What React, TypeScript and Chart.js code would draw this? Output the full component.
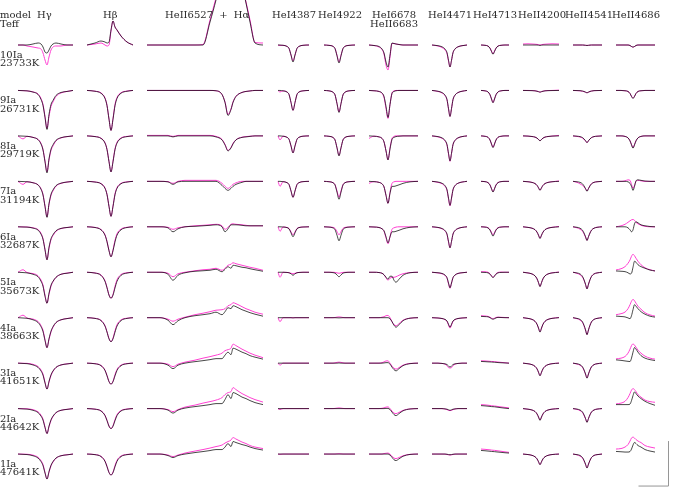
import React, { useEffect, useRef } from "react";
import { Chart, registerables } from "chart.js";

Chart.register(...registerables);

// ---------- labels ----------
const ROW_MODELS = ["10Ia", "9Ia", "8Ia", "7Ia", "6Ia", "5Ia", "4Ia", "3Ia", "2Ia", "1Ia"];
const ROW_TEFF = ["23733K", "26731K", "29719K", "31194K", "32687K", "35673K", "38663K", "41651K", "44642K", "47641K"];

// ---------- H gamma ----------
const HG_X = [-29, -24, -20, -14, -9, -6, -4, -2, 0, 2, 4, 6, 9, 14, 20, 26];
const HG_BLACK = [
  [1, 1, 1, 1.01, 1.02, 1.01, 0.98, 0.93, 0.92, 0.95, 0.99, 1.01, 1.02, 1.01, 1, 1],
  [1, 0.998, 0.996, 0.984, 0.96, 0.91, 0.85, 0.73, 0.61, 0.76, 0.86, 0.9, 0.95, 0.98, 0.99, 1],
  [1, 0.998, 0.996, 0.985, 0.963, 0.919, 0.859, 0.741, 0.63, 0.771, 0.867, 0.911, 0.956, 0.982, 0.993, 1],
  [1, 0.998, 0.996, 0.986, 0.964, 0.921, 0.863, 0.748, 0.64, 0.777, 0.87, 0.914, 0.957, 0.982, 0.993, 1],
  [1, 0.998, 0.997, 0.987, 0.967, 0.927, 0.875, 0.769, 0.67, 0.795, 0.881, 0.921, 0.96, 0.984, 0.993, 1],
  [1, 0.997, 0.994, 0.98, 0.955, 0.91, 0.86, 0.76, 0.69, 0.79, 0.87, 0.91, 0.95, 0.98, 0.99, 1],
  [1, 0.997, 0.994, 0.979, 0.952, 0.91, 0.862, 0.772, 0.7, 0.79, 0.865, 0.91, 0.952, 0.979, 0.991, 1],
  [1, 0.997, 0.995, 0.982, 0.958, 0.922, 0.88, 0.802, 0.74, 0.818, 0.883, 0.922, 0.958, 0.982, 0.992, 1],
  [1, 0.997, 0.995, 0.983, 0.96, 0.925, 0.885, 0.81, 0.75, 0.825, 0.888, 0.925, 0.96, 0.983, 0.992, 1],
  [1, 0.997, 0.995, 0.983, 0.96, 0.925, 0.885, 0.81, 0.75, 0.825, 0.888, 0.925, 0.96, 0.983, 0.992, 1],
];
const HG_MAG = [
  [1, 1, 0.99, 0.98, 0.97, 0.96, 0.92, 0.85, 0.8, 0.88, 0.95, 0.98, 0.99, 0.99, 1, 1],
  [1, 0.998, 0.996, 0.985, 0.965, 0.92, 0.86, 0.74, 0.62, 0.74, 0.84, 0.885, 0.94, 0.975, 0.99, 1],
  [1, 0.97, 0.996, 0.985, 0.965, 0.925, 0.865, 0.75, 0.64, 0.76, 0.855, 0.9, 0.95, 0.98, 0.993, 1],
  [1, 0.97, 0.996, 0.986, 0.966, 0.927, 0.87, 0.755, 0.645, 0.77, 0.86, 0.905, 0.952, 0.98, 0.993, 1],
  [1, 0.999, 0.998, 0.99, 0.972, 0.935, 0.882, 0.775, 0.67, 0.785, 0.87, 0.912, 0.955, 0.982, 0.993, 1],
  [1, 1.025, 0.997, 0.987, 0.965, 0.922, 0.872, 0.77, 0.69, 0.78, 0.86, 0.905, 0.948, 0.98, 0.992, 1],
  [1, 1.025, 0.997, 0.986, 0.962, 0.922, 0.874, 0.782, 0.7, 0.782, 0.858, 0.905, 0.95, 0.979, 0.992, 1],
  [1, 0.999, 0.998, 0.988, 0.966, 0.932, 0.89, 0.81, 0.74, 0.81, 0.877, 0.918, 0.956, 0.982, 0.993, 1],
  [1, 0.999, 0.998, 0.989, 0.968, 0.935, 0.895, 0.818, 0.75, 0.818, 0.882, 0.92, 0.958, 0.983, 0.993, 1],
  [1, 0.999, 0.998, 0.989, 0.968, 0.935, 0.895, 0.818, 0.75, 0.818, 0.882, 0.92, 0.958, 0.983, 0.993, 1],
];

// ---------- H beta ----------
const HB_X = [-24, -16, -10, -6, -4, -2, 0, 2, 4, 6, 10, 16, 22];
const HB_BLACK = [
  [1, 1.02, 1.04, 1.03, 1.02, 1.03, 1.15, 1.24, 1.18, 1.15, 1.09, 1.03, 1],
  [1, 0.992, 0.972, 0.92, 0.848, 0.712, 0.6, 0.712, 0.848, 0.92, 0.972, 0.992, 1],
  [1, 0.993, 0.975, 0.928, 0.863, 0.741, 0.64, 0.741, 0.863, 0.928, 0.975, 0.993, 1],
  [1, 0.993, 0.976, 0.93, 0.867, 0.748, 0.65, 0.748, 0.867, 0.93, 0.976, 0.993, 1],
  [1, 0.993, 0.97, 0.916, 0.85, 0.76, 0.7, 0.76, 0.85, 0.916, 0.97, 0.993, 1],
  [1, 0.992, 0.969, 0.909, 0.844, 0.771, 0.74, 0.771, 0.844, 0.909, 0.969, 0.992, 1],
  [1, 0.993, 0.971, 0.916, 0.856, 0.789, 0.76, 0.789, 0.856, 0.916, 0.971, 0.993, 1],
  [1, 0.994, 0.975, 0.927, 0.874, 0.815, 0.79, 0.815, 0.874, 0.927, 0.975, 0.994, 1],
  [1, 0.994, 0.976, 0.93, 0.88, 0.824, 0.8, 0.824, 0.88, 0.93, 0.976, 0.994, 1],
  [1, 0.994, 0.975, 0.927, 0.874, 0.815, 0.79, 0.815, 0.874, 0.927, 0.975, 0.994, 1],
];
const HB_MAG = [
  [1, 1.01, 1.02, 1.0, 0.99, 1.0, 1.14, 1.24, 1.18, 1.15, 1.09, 1.03, 1],
  [1, 0.993, 0.975, 0.925, 0.852, 0.715, 0.6, 0.72, 0.86, 0.93, 0.977, 0.994, 1],
  [1, 0.994, 0.977, 0.932, 0.867, 0.745, 0.64, 0.748, 0.872, 0.936, 0.979, 0.995, 1],
  [1, 0.994, 0.978, 0.934, 0.871, 0.752, 0.65, 0.755, 0.876, 0.938, 0.98, 0.995, 1],
  [1, 0.994, 0.973, 0.92, 0.855, 0.763, 0.7, 0.77, 0.865, 0.93, 0.977, 0.995, 1],
  [1, 0.993, 0.972, 0.914, 0.849, 0.774, 0.74, 0.78, 0.86, 0.925, 0.977, 0.995, 1],
  [1, 0.994, 0.974, 0.92, 0.86, 0.792, 0.76, 0.797, 0.87, 0.93, 0.978, 0.995, 1],
  [1, 0.995, 0.977, 0.93, 0.877, 0.817, 0.79, 0.82, 0.885, 0.938, 0.98, 0.996, 1],
  [1, 0.995, 0.978, 0.933, 0.883, 0.826, 0.8, 0.83, 0.89, 0.94, 0.98, 0.996, 1],
  [1, 0.995, 0.977, 0.93, 0.877, 0.817, 0.79, 0.82, 0.885, 0.938, 0.98, 0.996, 1],
];

// ---------- HeII6527 + H alpha ----------
const HA_X = [-81, -68, -60, -55, -50, -43, -33, -25, -18, -12, -6, -3, 0, 3, 5, 8, 14, 18, 22, 27, 35];
const HA_BLACK = [
  [1, 1, 1, 1, 1, 1, 1, 1, 1.23, 1.45, 1.7, 1.8, 1.85, 1.85, 1.85, 1.8, 1.6, 1.42, 1.23, 1.02, 1],
  [1, 1, 1, 1, 1, 1, 1, 1, 1, 0.997, 0.96, 0.88, 0.75, 0.81, 0.88, 0.94, 0.98, 0.99, 0.995, 1, 1],
  [1, 1, 1, 0.99, 1, 1, 1, 1, 1, 0.99, 0.96, 0.91, 0.85, 0.88, 0.92, 0.96, 0.985, 0.99, 0.995, 1, 1],
  [1, 1, 0.995, 0.97, 0.995, 1, 1, 1, 1, 1, 0.96, 0.93, 0.91, 0.93, 0.95, 0.97, 0.99, 1, 1, 1, 1],
  [1, 1, 0.99, 0.95, 0.98, 1, 1.005, 1.01, 1.015, 1.02, 1.0, 0.95, 0.98, 1.02, 1.02, 1.02, 1.015, 1.01, 1.01, 1.01, 1.01],
  [1, 1, 0.98, 0.92, 0.97, 0.995, 1.01, 1.015, 1.02, 1.03, 1.005, 1.03, 1.055, 1.04, 1.07, 1.065, 1.05, 1.045, 1.035, 1.025, 1.01],
  [1, 1, 0.975, 0.93, 0.97, 1, 1.02, 1.03, 1.04, 1.055, 1.03, 1.06, 1.1, 1.09, 1.12, 1.11, 1.08, 1.065, 1.05, 1.035, 1.015],
  [1, 1, 0.98, 0.945, 0.98, 1, 1.015, 1.025, 1.035, 1.045, 1.045, 1.08, 1.11, 1.085, 1.15, 1.14, 1.11, 1.095, 1.075, 1.06, 1.04],
  [1, 1, 0.985, 0.955, 0.985, 1.005, 1.02, 1.03, 1.04, 1.05, 1.05, 1.09, 1.14, 1.1, 1.16, 1.15, 1.115, 1.1, 1.08, 1.06, 1.04],
  [1, 1, 0.985, 0.965, 0.985, 1, 1.015, 1.025, 1.035, 1.045, 1.045, 1.07, 1.105, 1.075, 1.125, 1.115, 1.095, 1.085, 1.07, 1.055, 1.04],
];
const HA_MAG = [
  [1, 1, 1, 1, 1, 1, 1, 1.005, 1.25, 1.47, 1.7, 1.8, 1.85, 1.85, 1.85, 1.8, 1.6, 1.43, 1.25, 1.025, 1.02],
  [1, 1, 1, 1, 1, 1, 1, 1, 1, 0.997, 0.96, 0.885, 0.76, 0.815, 0.885, 0.942, 0.98, 0.99, 0.995, 1, 1],
  [1.005, 1.005, 1.005, 0.995, 1.005, 1.005, 1.005, 1.005, 1.005, 0.995, 0.965, 0.915, 0.855, 0.885, 0.925, 0.962, 0.987, 0.993, 0.997, 1, 1],
  [1, 1, 0.997, 0.98, 1, 1.01, 1.01, 1.01, 1.01, 1.01, 0.98, 0.95, 0.93, 0.95, 0.97, 0.985, 1, 1, 1, 1, 1],
  [1, 1, 0.995, 0.975, 0.99, 1, 1.01, 1.015, 1.02, 1.025, 1.01, 0.975, 0.995, 1.025, 1.03, 1.025, 1.02, 1.015, 1.01, 1.01, 1.01],
  [1, 1, 0.99, 0.955, 0.985, 1, 1.015, 1.025, 1.03, 1.04, 1.02, 1.04, 1.07, 1.08, 1.095, 1.085, 1.07, 1.06, 1.05, 1.04, 1.02],
  [1, 1, 0.985, 0.965, 0.985, 1.005, 1.03, 1.045, 1.06, 1.075, 1.08, 1.09, 1.12, 1.13, 1.15, 1.14, 1.11, 1.09, 1.075, 1.055, 1.035],
  [1, 1, 0.99, 0.965, 0.99, 1.01, 1.03, 1.05, 1.065, 1.08, 1.1, 1.125, 1.135, 1.15, 1.19, 1.175, 1.14, 1.12, 1.1, 1.08, 1.055],
  [1, 1, 0.99, 0.97, 0.99, 1.015, 1.035, 1.055, 1.07, 1.085, 1.11, 1.14, 1.16, 1.17, 1.21, 1.19, 1.15, 1.13, 1.11, 1.09, 1.065],
  [1, 1, 0.99, 0.975, 0.99, 1.01, 1.03, 1.045, 1.06, 1.075, 1.09, 1.11, 1.125, 1.14, 1.165, 1.15, 1.12, 1.105, 1.085, 1.07, 1.055],
];

// ---------- HeI4387 ----------
const HE4387_X = [-15, -13, -10, -6, -4, -2, 0, 2, 4, 6, 10, 16];
const HE4387_BLACK = [
  [1, 1, 0.997, 0.986, 0.966, 0.9, 0.83, 0.9, 0.966, 0.986, 0.997, 1],
  [1, 1, 0.996, 0.984, 0.96, 0.88, 0.8, 0.88, 0.96, 0.984, 0.996, 1],
  [1, 1, 0.997, 0.986, 0.966, 0.9, 0.83, 0.9, 0.966, 0.986, 0.997, 1],
  [1, 1, 0.997, 0.987, 0.968, 0.904, 0.84, 0.904, 0.968, 0.987, 0.997, 1],
  [1, 1, 0.998, 0.992, 0.98, 0.94, 0.9, 0.94, 0.98, 0.992, 0.998, 1],
  [1, 1, 1, 0.998, 0.995, 0.985, 0.97, 0.985, 0.995, 0.998, 1, 1],
  [1, 1, 1, 1, 1, 1, 0.998, 1, 1, 1, 1, 1],
  [1, 1, 1, 1, 1, 1, 1, 1, 1, 1, 1, 1],
  [1, 1, 1, 1, 1, 1, 1, 1, 1, 1, 1, 1],
  [1, 1, 1, 1, 1, 1, 1, 1, 1, 1, 1, 1],
];
const HE4387_MAG = [
  [1, 0.995, 0.997, 0.986, 0.966, 0.9, 0.84, 0.9, 0.966, 0.986, 0.997, 1],
  [1, 0.985, 0.996, 0.984, 0.96, 0.88, 0.8, 0.88, 0.96, 0.984, 0.996, 1],
  [1, 0.96, 0.997, 0.986, 0.966, 0.9, 0.83, 0.9, 0.966, 0.986, 0.997, 1],
  [1, 0.95, 0.997, 0.987, 0.968, 0.904, 0.84, 0.904, 0.968, 0.987, 0.997, 1],
  [1, 0.955, 0.998, 0.993, 0.983, 0.95, 0.92, 0.95, 0.983, 0.993, 0.998, 1],
  [1, 0.95, 1, 0.998, 0.996, 0.99, 0.985, 0.99, 0.996, 0.998, 1, 1],
  [1, 0.96, 1, 1, 1, 1, 1, 1, 1, 1, 1, 1],
  [1, 0.98, 1, 1, 1, 1, 1, 1, 1, 1, 1, 1],
  [1, 0.99, 1, 1, 1, 1, 1, 1, 1, 1, 1, 1],
  [1, 0.997, 1, 1, 1, 1, 1, 1, 1, 1, 1, 1],
];

// ---------- HeI4922 ----------
const HE4922_X = [-15, -10, -6, -4, -2, 0, 2, 4, 6, 10, 16];
const HE4922_BLACK = [
  [1, 0.996, 0.986, 0.964, 0.892, 0.82, 0.892, 0.964, 0.986, 0.996, 1],
  [1, 0.996, 0.982, 0.956, 0.868, 0.78, 0.868, 0.956, 0.982, 0.996, 1],
  [1, 0.996, 0.984, 0.96, 0.88, 0.8, 0.88, 0.96, 0.984, 0.996, 1],
  [1, 0.996, 0.986, 0.964, 0.892, 0.82, 0.892, 0.964, 0.986, 0.996, 1],
  [1, 0.997, 0.989, 0.972, 0.916, 0.86, 0.916, 0.972, 0.989, 0.997, 1],
  [1, 1, 0.996, 0.991, 0.973, 0.955, 0.973, 0.991, 0.996, 1, 1],
  [1, 1, 1, 1, 0.999, 0.998, 0.999, 1, 1, 1, 1],
  [1, 1, 1, 1, 1, 1.002, 1, 1, 1, 1, 1],
  [1, 1, 1, 1, 1, 1, 1, 1, 1, 1, 1],
  [1, 1, 1, 1, 1, 1, 1, 1, 1, 1, 1],
];
const HE4922_MAG = [
  [1, 0.997, 0.987, 0.966, 0.898, 0.83, 0.898, 0.966, 0.987, 0.997, 1],
  [1, 0.996, 0.982, 0.956, 0.87, 0.785, 0.87, 0.956, 0.982, 0.996, 1],
  [1, 0.996, 0.984, 0.96, 0.882, 0.805, 0.882, 0.96, 0.984, 0.996, 1],
  [1, 0.997, 0.987, 0.968, 0.904, 0.84, 0.904, 0.968, 0.987, 0.997, 1],
  [1, 0.998, 0.994, 0.984, 0.952, 0.92, 0.952, 0.984, 0.994, 0.998, 1],
  [1, 1, 1, 0.998, 0.994, 0.99, 0.994, 0.998, 1, 1, 1],
  [1, 1, 1, 1.002, 1.006, 1.008, 1.006, 1.002, 1, 1, 1],
  [1, 1, 1, 1.003, 1.008, 1.01, 1.008, 1.003, 1, 1, 1],
  [1, 1, 1, 1.002, 1.005, 1.007, 1.005, 1.002, 1, 1, 1],
  [1, 1, 1, 1, 1.002, 1.003, 1.002, 1, 1, 1, 1],
];

// ---------- HeI6678 / HeII6683 ----------
const HE6678_X = [-19, -14, -9, -6, -4, -2, 0, 2, 4, 6, 8, 11, 15, 22, 30];
const HE6678_BLACK = [
  [1, 0.995, 0.985, 0.96, 0.92, 0.83, 0.78, 0.9, 1.02, 1.015, 1.01, 1.005, 1, 1, 1],
  [1, 0.997, 0.99, 0.975, 0.94, 0.84, 0.73, 0.86, 0.97, 0.99, 0.997, 1, 1, 1, 1],
  [1, 0.997, 0.99, 0.975, 0.94, 0.85, 0.76, 0.87, 0.965, 0.985, 0.993, 0.997, 1, 1, 1],
  [1, 0.997, 0.99, 0.975, 0.945, 0.86, 0.78, 0.88, 0.95, 0.95, 0.955, 0.965, 0.98, 0.995, 1],
  [1, 0.998, 0.993, 0.98, 0.96, 0.9, 0.84, 0.9, 0.95, 0.95, 0.955, 0.965, 0.98, 0.995, 1],
  [1, 1, 0.997, 0.99, 0.975, 0.95, 0.93, 0.96, 0.96, 0.92, 0.9, 0.93, 0.97, 0.995, 1],
  [1, 1, 1, 1, 1, 1, 1, 0.99, 0.96, 0.925, 0.905, 0.93, 0.97, 0.995, 1],
  [1, 1, 1, 1, 1.002, 1.005, 1.005, 0.99, 0.96, 0.935, 0.923, 0.945, 0.975, 0.995, 1],
  [1, 1, 1, 1, 1, 1.002, 1.002, 0.99, 0.965, 0.94, 0.93, 0.95, 0.978, 0.996, 1],
  [1, 1, 1, 1, 1, 1, 1, 0.99, 0.967, 0.943, 0.935, 0.952, 0.978, 0.996, 1],
];
const HE6678_MAG = [
  [1, 0.995, 0.98, 0.955, 0.91, 0.8, 0.75, 0.88, 1.015, 1.015, 1.01, 1.005, 1, 1, 1],
  [1, 0.997, 0.99, 0.97, 0.93, 0.82, 0.72, 0.86, 0.975, 0.995, 1, 1, 1, 1, 1],
  [0.975, 0.997, 0.99, 0.975, 0.94, 0.85, 0.76, 0.88, 0.975, 0.995, 1, 1, 1, 1, 1],
  [0.98, 0.997, 0.99, 0.975, 0.945, 0.86, 0.78, 0.89, 0.98, 0.995, 1, 1, 1, 1, 1],
  [1, 0.998, 0.993, 0.98, 0.955, 0.89, 0.83, 0.9, 0.975, 0.99, 0.997, 1, 1, 1, 1],
  [1, 1, 0.997, 0.99, 0.975, 0.945, 0.92, 0.94, 0.95, 0.95, 0.955, 0.97, 0.985, 0.997, 1],
  [1, 1, 1, 1.005, 1.01, 1.02, 1.023, 1, 0.96, 0.93, 0.92, 0.94, 0.975, 0.995, 1],
  [1, 1, 1, 1.005, 1.012, 1.022, 1.023, 1, 0.97, 0.95, 0.94, 0.955, 0.98, 0.997, 1],
  [1, 1, 1, 1.003, 1.008, 1.015, 1.017, 1, 0.975, 0.955, 0.95, 0.962, 0.982, 0.997, 1],
  [1, 1, 1, 1, 1.005, 1.008, 1.01, 0.998, 0.978, 0.96, 0.955, 0.965, 0.983, 0.997, 1],
];

// ---------- HeI4471 ----------
const HE4471_X = [-18, -12, -8, -5, -3, -1.5, 0, 1.5, 3, 5, 8, 12, 17];
const HE4471_BLACK = [
  [1, 0.993, 0.982, 0.96, 0.923, 0.846, 0.78, 0.846, 0.923, 0.96, 0.982, 0.993, 1],
  [1, 0.992, 0.979, 0.953, 0.909, 0.818, 0.74, 0.818, 0.909, 0.953, 0.979, 0.992, 1],
  [1, 0.993, 0.98, 0.955, 0.913, 0.825, 0.75, 0.825, 0.913, 0.955, 0.98, 0.993, 1],
  [1, 0.993, 0.981, 0.957, 0.916, 0.832, 0.76, 0.832, 0.916, 0.957, 0.981, 0.993, 1],
  [1, 0.994, 0.983, 0.962, 0.927, 0.853, 0.79, 0.853, 0.927, 0.962, 0.983, 0.994, 1],
  [1, 0.995, 0.988, 0.972, 0.946, 0.892, 0.845, 0.892, 0.946, 0.972, 0.988, 0.995, 1],
  [1, 0.997, 0.992, 0.983, 0.967, 0.934, 0.905, 0.934, 0.967, 0.983, 0.992, 0.997, 1],
  [1, 1, 0.997, 0.993, 0.986, 0.972, 0.96, 0.972, 0.986, 0.993, 0.997, 1, 1],
  [1, 1, 1, 0.997, 0.994, 0.988, 0.983, 0.988, 0.994, 0.997, 1, 1, 1],
  [1, 1, 1, 1, 0.998, 0.995, 0.993, 0.995, 0.998, 1, 1, 1, 1],
];
const HE4471_MAG = [
  [1, 0.99, 0.975, 0.95, 0.915, 0.84, 0.78, 0.846, 0.923, 0.96, 0.982, 0.993, 1],
  [1, 0.99, 0.975, 0.948, 0.905, 0.815, 0.74, 0.818, 0.909, 0.953, 0.979, 0.992, 1],
  [1, 0.99, 0.976, 0.95, 0.908, 0.82, 0.745, 0.825, 0.913, 0.955, 0.98, 0.993, 1],
  [1, 0.99, 0.976, 0.95, 0.91, 0.826, 0.755, 0.832, 0.916, 0.957, 0.981, 0.993, 1],
  [1, 0.992, 0.98, 0.958, 0.922, 0.848, 0.79, 0.853, 0.927, 0.962, 0.983, 0.994, 1],
  [1, 0.993, 0.985, 0.968, 0.94, 0.885, 0.84, 0.892, 0.946, 0.972, 0.988, 0.995, 1],
  [1, 0.997, 0.992, 0.98, 0.963, 0.927, 0.895, 0.927, 0.963, 0.98, 0.992, 0.997, 1],
  [1, 1, 0.997, 0.99, 0.975, 0.955, 0.952, 0.955, 0.975, 0.99, 0.997, 1, 1],
  [1, 1, 1, 0.996, 0.99, 0.982, 0.98, 0.982, 0.99, 0.996, 1, 1, 1],
  [1, 1, 1, 0.999, 0.996, 0.992, 0.99, 0.992, 0.996, 0.999, 1, 1, 1],
];

// ---------- HeI4713 ----------
const HE4713_X = [-12, -8, -5, -3, -1.5, 0, 1.5, 3, 5, 8, 12, 16];
const HE4713_BLACK = [
  [1, 0.997, 0.989, 0.967, 0.935, 0.907, 0.935, 0.967, 0.989, 0.997, 1, 1],
  [1, 0.996, 0.985, 0.957, 0.914, 0.877, 0.914, 0.957, 0.985, 0.996, 1, 1],
  [1, 0.996, 0.986, 0.959, 0.918, 0.883, 0.918, 0.959, 0.986, 0.996, 1, 1],
  [1, 0.997, 0.987, 0.963, 0.925, 0.893, 0.925, 0.963, 0.987, 0.997, 1, 1],
  [1, 0.997, 0.989, 0.967, 0.934, 0.906, 0.934, 0.967, 0.989, 0.997, 1, 1],
  [1, 0.998, 0.994, 0.981, 0.962, 0.946, 0.962, 0.981, 0.994, 0.998, 1, 1],
  [1.013, 1.011, 1.009, 1, 0.99, 0.985, 0.99, 0.998, 1.003, 1.002, 1, 1],
  [1.017, 1.015, 1.013, 1.012, 1.011, 1.01, 1.009, 1.008, 1.006, 1.004, 1.002, 1],
  [1.03, 1.027, 1.024, 1.022, 1.02, 1.019, 1.018, 1.016, 1.013, 1.009, 1.004, 1],
  [1.036, 1.033, 1.03, 1.028, 1.026, 1.025, 1.024, 1.022, 1.02, 1.017, 1.013, 1.01],
];
const HE4713_MAG = [
  [1, 0.997, 0.99, 0.97, 0.94, 0.912, 0.94, 0.97, 0.99, 0.997, 1, 1],
  [1, 0.996, 0.985, 0.958, 0.916, 0.88, 0.916, 0.958, 0.985, 0.996, 1, 1],
  [1, 0.996, 0.986, 0.96, 0.92, 0.886, 0.92, 0.96, 0.986, 0.996, 1, 1],
  [1, 0.997, 0.988, 0.965, 0.928, 0.897, 0.928, 0.965, 0.988, 0.997, 1, 1],
  [1, 0.998, 0.991, 0.972, 0.944, 0.92, 0.944, 0.972, 0.991, 0.998, 1, 1],
  [1.005, 1.005, 1, 0.985, 0.965, 0.95, 0.965, 0.985, 0.998, 1.002, 1, 1],
  [1.02, 1.017, 1.013, 1.005, 0.995, 0.99, 0.995, 1.002, 1.006, 1.004, 1.002, 1],
  [1.024, 1.022, 1.02, 1.018, 1.017, 1.016, 1.015, 1.013, 1.011, 1.008, 1.004, 1],
  [1.04, 1.037, 1.034, 1.031, 1.029, 1.027, 1.026, 1.024, 1.021, 1.017, 1.012, 1.007],
  [1.05, 1.047, 1.044, 1.042, 1.04, 1.038, 1.037, 1.035, 1.032, 1.028, 1.022, 1.017],
];

// ---------- HeII4200 ----------
const HE4200_X = [-17, -12, -8, -5, -3, -1.5, 0, 1.5, 3, 5, 8, 12, 19];
const HE4200_BLACK = [
  [1, 1, 1, 1, 1, 0.998, 0.996, 0.998, 1, 1, 1, 1, 1],
  [1, 0.999, 0.998, 0.996, 0.992, 0.988, 0.983, 0.988, 0.992, 0.996, 0.998, 0.999, 1],
  [1, 0.998, 0.994, 0.988, 0.978, 0.964, 0.95, 0.964, 0.978, 0.988, 0.994, 0.998, 1],
  [1, 0.996, 0.989, 0.978, 0.96, 0.935, 0.91, 0.935, 0.96, 0.978, 0.989, 0.996, 1],
  [1, 0.994, 0.986, 0.971, 0.947, 0.916, 0.883, 0.916, 0.947, 0.971, 0.986, 0.994, 1],
  [1, 0.993, 0.983, 0.964, 0.935, 0.896, 0.856, 0.896, 0.935, 0.964, 0.983, 0.993, 1],
  [1, 0.993, 0.983, 0.964, 0.935, 0.896, 0.856, 0.896, 0.935, 0.964, 0.983, 0.993, 1],
  [1, 0.994, 0.985, 0.968, 0.943, 0.909, 0.873, 0.909, 0.943, 0.968, 0.985, 0.994, 1],
  [1, 0.994, 0.986, 0.971, 0.947, 0.916, 0.883, 0.916, 0.947, 0.971, 0.986, 0.994, 1],
  [1, 0.995, 0.987, 0.973, 0.952, 0.923, 0.893, 0.923, 0.952, 0.973, 0.987, 0.995, 1],
];
const HE4200_MAG = [
  [1.01, 1.012, 1.01, 1.008, 1.006, 1.004, 1.0, 1.004, 1.006, 1.008, 1.01, 1.012, 1.01],
  [1, 1, 0.999, 0.997, 0.993, 0.988, 0.984, 0.988, 0.993, 0.997, 0.999, 1, 1.003],
  [1, 0.998, 0.994, 0.988, 0.978, 0.965, 0.952, 0.965, 0.978, 0.988, 0.994, 0.998, 1.005],
  [1, 0.996, 0.99, 0.978, 0.96, 0.936, 0.912, 0.936, 0.96, 0.978, 0.99, 0.996, 1.004],
  [1, 0.994, 0.986, 0.971, 0.947, 0.916, 0.885, 0.916, 0.947, 0.971, 0.986, 0.995, 1.003],
  [1, 0.993, 0.983, 0.964, 0.935, 0.896, 0.86, 0.896, 0.935, 0.964, 0.983, 0.994, 1.002],
  [1, 0.993, 0.983, 0.964, 0.935, 0.896, 0.86, 0.896, 0.935, 0.964, 0.983, 0.994, 1.002],
  [1, 0.994, 0.985, 0.968, 0.943, 0.909, 0.876, 0.909, 0.943, 0.968, 0.985, 0.995, 1.001],
  [1, 0.994, 0.986, 0.971, 0.947, 0.916, 0.886, 0.916, 0.947, 0.971, 0.986, 0.995, 1.001],
  [1, 0.995, 0.987, 0.973, 0.952, 0.923, 0.895, 0.923, 0.952, 0.973, 0.987, 0.995, 1],
];

// ---------- HeII4541 ----------
const HE4541_X = [-14, -10, -7, -4.5, -3, -1.5, 0, 1.5, 3, 4.5, 7, 10, 15];
const HE4541_BLACK = [
  [1, 1, 1, 1, 0.999, 0.997, 0.995, 0.997, 0.999, 1, 1, 1, 1],
  [1, 0.999, 0.998, 0.994, 0.99, 0.983, 0.977, 0.983, 0.99, 0.994, 0.998, 0.999, 1],
  [1, 0.997, 0.993, 0.983, 0.97, 0.952, 0.933, 0.952, 0.97, 0.983, 0.993, 0.997, 1],
  [1, 0.996, 0.99, 0.975, 0.955, 0.928, 0.9, 0.928, 0.955, 0.975, 0.99, 0.996, 1],
  [1, 0.995, 0.986, 0.966, 0.938, 0.901, 0.863, 0.901, 0.938, 0.966, 0.986, 0.995, 1],
  [1, 0.993, 0.983, 0.958, 0.925, 0.88, 0.833, 0.88, 0.925, 0.958, 0.983, 0.993, 1],
  [1, 0.993, 0.983, 0.958, 0.924, 0.878, 0.83, 0.878, 0.924, 0.958, 0.983, 0.993, 1],
  [1, 0.994, 0.985, 0.963, 0.933, 0.892, 0.85, 0.892, 0.933, 0.963, 0.985, 0.994, 1],
  [1, 0.995, 0.986, 0.966, 0.938, 0.901, 0.863, 0.901, 0.938, 0.966, 0.986, 0.995, 1],
  [1, 0.994, 0.986, 0.965, 0.937, 0.899, 0.86, 0.899, 0.937, 0.965, 0.986, 0.994, 1],
];
const HE4541_MAG = [
  [1, 1, 1, 1, 0.999, 0.997, 0.996, 0.997, 0.999, 1, 1, 1, 1],
  [1, 0.998, 0.996, 0.992, 0.988, 0.982, 0.977, 0.983, 0.99, 0.994, 0.998, 0.999, 1],
  [1, 0.995, 0.989, 0.978, 0.966, 0.95, 0.933, 0.952, 0.97, 0.983, 0.993, 0.997, 1],
  [1, 0.99, 0.975, 0.96, 0.945, 0.925, 0.905, 0.93, 0.958, 0.977, 0.99, 0.996, 1],
  [1, 0.99, 0.976, 0.955, 0.93, 0.898, 0.865, 0.903, 0.94, 0.967, 0.986, 0.995, 1],
  [1, 0.989, 0.975, 0.95, 0.92, 0.878, 0.835, 0.882, 0.927, 0.959, 0.983, 0.993, 1],
  [1, 0.99, 0.977, 0.952, 0.92, 0.877, 0.832, 0.88, 0.926, 0.959, 0.983, 0.993, 1],
  [1, 0.991, 0.979, 0.957, 0.928, 0.89, 0.852, 0.894, 0.934, 0.964, 0.985, 0.994, 1],
  [1, 0.992, 0.98, 0.96, 0.933, 0.899, 0.865, 0.903, 0.939, 0.967, 0.986, 0.995, 1],
  [1, 0.992, 0.98, 0.959, 0.932, 0.897, 0.862, 0.901, 0.938, 0.966, 0.986, 0.994, 1],
];

// ---------- HeII4686 ----------
const HE4686_X = [-17, -12, -8, -5, -3, -1.5, 0, 1.5, 3, 5, 8, 12, 17, 22];
const HE4686_BLACK = [
  [1, 1, 1, 1, 0.995, 0.985, 0.98, 0.985, 0.995, 1, 1, 1, 1, 1],
  [1, 1, 0.997, 0.99, 0.97, 0.94, 0.92, 0.94, 0.97, 0.99, 0.997, 1, 1, 1],
  [1, 1, 0.995, 0.98, 0.95, 0.91, 0.877, 0.91, 0.95, 0.98, 0.995, 1, 1, 1],
  [1, 1, 1, 0.995, 0.98, 0.95, 0.91, 0.95, 1.005, 1.015, 1.01, 1.003, 1, 1],
  [1, 1, 1, 0.99, 0.97, 0.95, 0.97, 1.03, 1.05, 1.04, 1.02, 1.01, 1.003, 1],
  [1.013, 1.01, 1.006, 0.995, 0.983, 0.99, 1.05, 1.11, 1.1, 1.075, 1.056, 1.04, 1.022, 1.013],
  [1.016, 1.012, 1.008, 0.998, 0.99, 1.02, 1.08, 1.13, 1.115, 1.09, 1.06, 1.035, 1.015, 1.006],
  [1.033, 1.028, 1.022, 1.018, 1.016, 1.05, 1.11, 1.156, 1.14, 1.11, 1.075, 1.05, 1.035, 1.026],
  [1.04, 1.04, 1.04, 1.04, 1.045, 1.08, 1.13, 1.167, 1.15, 1.125, 1.1, 1.073, 1.05, 1.033],
  [1.026, 1.023, 1.02, 1.02, 1.025, 1.05, 1.09, 1.116, 1.105, 1.085, 1.07, 1.045, 1.03, 1.02],
];
const HE4686_MAG = [
  [1, 1, 1, 1, 0.995, 0.985, 0.978, 0.985, 0.995, 1, 1, 1, 1, 1],
  [1, 1, 0.997, 0.99, 0.97, 0.942, 0.925, 0.942, 0.97, 0.99, 0.997, 1, 1, 1],
  [1, 1, 0.995, 0.98, 0.952, 0.915, 0.885, 0.915, 0.952, 0.98, 0.995, 1, 1, 1],
  [1, 1, 1.005, 1.015, 1.01, 0.97, 0.93, 0.96, 1.0, 1.01, 1.005, 1, 1, 1],
  [1, 1.01, 1.025, 1.045, 1.06, 1.07, 1.073, 1.065, 1.045, 1.03, 1.015, 1.005, 1, 1],
  [1.023, 1.035, 1.056, 1.09, 1.123, 1.16, 1.18, 1.165, 1.14, 1.11, 1.075, 1.045, 1.025, 1.013],
  [1.03, 1.04, 1.056, 1.09, 1.13, 1.165, 1.183, 1.17, 1.145, 1.115, 1.085, 1.05, 1.028, 1.016],
  [1.043, 1.05, 1.066, 1.1, 1.14, 1.175, 1.193, 1.18, 1.16, 1.13, 1.1, 1.07, 1.05, 1.04],
  [1.047, 1.055, 1.073, 1.11, 1.15, 1.185, 1.2, 1.19, 1.17, 1.14, 1.115, 1.085, 1.07, 1.063],
  [1.05, 1.055, 1.07, 1.095, 1.13, 1.16, 1.17, 1.16, 1.145, 1.13, 1.115, 1.085, 1.07, 1.06],
];

// scale bar: flux height and wavelength width
const SCALE_BAR_FLUX = 0.45;
const SCALE_BAR_WIDTH = 30;

// ---------- layout (pixels) ----------
const W = 700;
const H = 500;
const ROW_TOP = 45;
const ROW_STEP = 45.45;
const FLUX_PX = 100;
const MAGENTA = "rgb(255,64,210)";
const BLACK = "rgba(0,0,0,0.72)";
const FONT = "'DejaVu Serif', serif";

const COLUMNS = [
  { center: 47, x: HG_X, black: HG_BLACK, mag: HG_MAG },
  { center: 111, x: HB_X, black: HB_BLACK, mag: HB_MAG },
  { center: 228, x: HA_X, black: HA_BLACK, mag: HA_MAG },
  { center: 293, x: HE4387_X, black: HE4387_BLACK, mag: HE4387_MAG },
  { center: 339, x: HE4922_X, black: HE4922_BLACK, mag: HE4922_MAG },
  { center: 388, x: HE6678_X, black: HE6678_BLACK, mag: HE6678_MAG },
  { center: 450, x: HE4471_X, black: HE4471_BLACK, mag: HE4471_MAG },
  { center: 493, x: HE4713_X, black: HE4713_BLACK, mag: HE4713_MAG },
  { center: 540, x: HE4200_X, black: HE4200_BLACK, mag: HE4200_MAG },
  { center: 587, x: HE4541_X, black: HE4541_BLACK, mag: HE4541_MAG },
  { center: 633, x: HE4686_X, black: HE4686_BLACK, mag: HE4686_MAG },
];

const HEADERS = [
  { text: "model", left: 0, top: 10 },
  { text: "Hγ", left: 37, top: 10 },
  { text: "Teff", left: 0, top: 18.5 },
  { text: "Hβ", left: 103, top: 10 },
  { text: "HeII6527 + Hα", left: 165, top: 10, ws: 3 },
  { text: "HeI4387", left: 272, top: 10 },
  { text: "HeI4922", left: 318, top: 10 },
  { text: "HeI6678", left: 372, top: 10 },
  { text: "HeII6683", left: 370, top: 18.5 },
  { text: "HeI4471", left: 428, top: 10 },
  { text: "HeI4713", left: 473, top: 10 },
  { text: "HeII4200", left: 518, top: 10 },
  { text: "HeII4541", left: 565, top: 10 },
  { text: "HeII4686", left: 612, top: 10 },
];

function rowBase(r: number) {
  return ROW_TOP + ROW_STEP * r;
}

function toPoints(xs: number[], flux: number[], center: number, r: number) {
  const base = rowBase(r);
  return xs.map((dx, i) => ({ x: center + dx, y: base - (flux[i] - 1) * FLUX_PX }));
}

export default function App() {
  const canvasRef = useRef<HTMLCanvasElement | null>(null);

  useEffect(() => {
    const canvas = canvasRef.current;
    if (!canvas) return;
    const datasets: any[] = [];
    COLUMNS.forEach((col) => {
      for (let r = 0; r < ROW_MODELS.length; r++) {
        datasets.push({
          data: toPoints(col.x, col.mag[r], col.center, r),
          borderColor: MAGENTA,
          borderWidth: 1,
          pointRadius: 0,
          fill: false,
          cubicInterpolationMode: "monotone",
          order: 2,
        });
        datasets.push({
          data: toPoints(col.x, col.black[r], col.center, r),
          borderColor: BLACK,
          borderWidth: 1,
          pointRadius: 0,
          fill: false,
          cubicInterpolationMode: "monotone",
          order: 1,
        });
      }
    });
    // scale bar (bottom right)
    const cornerX = 668.5;
    const cornerY = rowBase(ROW_MODELS.length - 1) + 32;
    datasets.push({
      data: [
        { x: cornerX - SCALE_BAR_WIDTH, y: cornerY },
        { x: cornerX, y: cornerY },
        { x: cornerX, y: cornerY - SCALE_BAR_FLUX * FLUX_PX },
      ],
      borderColor: "rgb(150,150,150)",
      borderWidth: 1,
      pointRadius: 0,
      fill: false,
      tension: 0,
      order: 3,
    });

    const chart = new Chart(canvas, {
      type: "line",
      data: { datasets },
      options: {
        animation: false,
        responsive: false,
        maintainAspectRatio: false,
        events: [],
        layout: { padding: 0 },
        plugins: {
          legend: { display: false },
          tooltip: { enabled: false },
          title: { display: false },
        },
        scales: {
          x: { type: "linear", min: 0, max: W, display: false },
          y: { type: "linear", min: 0, max: H, reverse: true, display: false },
        },
      },
    });
    return () => chart.destroy();
  }, []);

  const textStyle = (left: number, top: number, ws?: number): React.CSSProperties => ({
    position: "absolute",
    left,
    top,
    fontFamily: FONT,
    fontSize: 10,
    lineHeight: "10px",
    color: "#2a2a2a",
    whiteSpace: "nowrap",
    wordSpacing: ws ? `${ws}px` : undefined,
  });

  return (
    <div style={{ position: "fixed", left: 0, top: 0, width: W, height: H, background: "#fff", overflow: "hidden" }}>
      <canvas ref={canvasRef} width={W} height={H} style={{ position: "absolute", left: 0, top: 0 }} />
      {HEADERS.map((h, i) => (
        <div key={"h" + i} style={textStyle(h.left, h.top, (h as any).ws)}>
          {h.text}
        </div>
      ))}
      {ROW_MODELS.map((m, r) => (
        <React.Fragment key={"r" + r}>
          <div style={textStyle(0, rowBase(r) + 5)}>{m}</div>
          <div style={textStyle(0, rowBase(r) + 13.3)}>{ROW_TEFF[r]}</div>
        </React.Fragment>
      ))}
    </div>
  );
}
